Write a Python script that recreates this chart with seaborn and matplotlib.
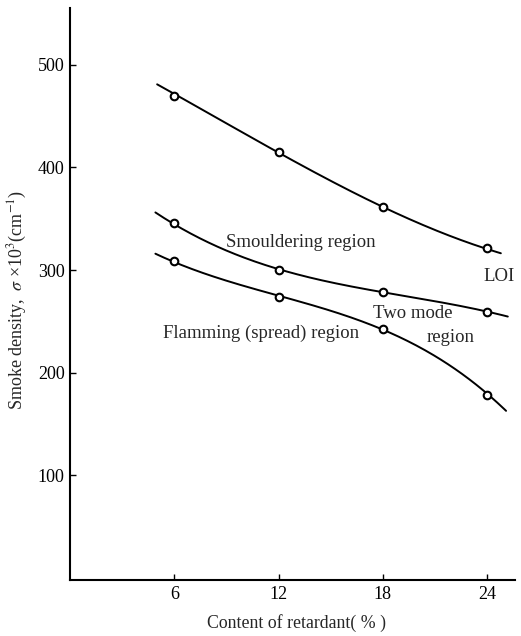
import numpy as np
import pandas as pd
import matplotlib
matplotlib.use("Agg")
import matplotlib.pyplot as plt
import seaborn as sns

# Measured points (retardant content %, smoke density)
content = [6, 12, 18, 24]
loi = [470, 415, 361, 321]
smoulder_bound = [346, 300, 279, 259]
flaming_bound = [309, 274, 243, 178]

# Where each drawn curve starts and ends beyond the measured points
loi_ends_x = [5.0, 24.8]
loi_ends_y = [482, 316]
smoulder_ends_x = [4.9, 25.2]
smoulder_ends_y = [355, 255]
flaming_ends_x = [4.9, 25.1]
flaming_ends_y = [315, 164]

x_ticks = [6, 12, 18, 24]
y_ticks = [100, 200, 300, 400, 500]

sns.set_theme(style="ticks")
plt.rcParams["font.family"] = ["Liberation Serif", "DejaVu Serif"]
plt.rcParams["mathtext.fontset"] = "stix"

fig = plt.figure(figsize=(5.21, 6.36), dpi=100)
ax = fig.add_axes([0.135, 0.088, 0.853, 0.899])

curves = [
    (loi, loi_ends_x, loi_ends_y),
    (smoulder_bound, smoulder_ends_x, smoulder_ends_y),
    (flaming_bound, flaming_ends_x, flaming_ends_y),
]

for ys, ex, ey in curves:
    px = np.array([ex[0]] + content + [ex[1]], dtype=float)
    py = np.array([ey[0]] + ys + [ey[1]], dtype=float)
    coef = np.polyfit(px, py, 3)
    xs = np.linspace(px[0], px[-1], 200)
    smooth = pd.DataFrame({"x": xs, "y": np.polyval(coef, xs)})
    sns.lineplot(data=smooth, x="x", y="y", ax=ax, color="black", lw=1.4,
                 sort=False, legend=False)
    pts = pd.DataFrame({"x": content, "y": ys})
    sns.scatterplot(data=pts, x="x", y="y", ax=ax, marker="o", s=30,
                    facecolor="white", edgecolor="black", linewidth=1.5,
                    zorder=5, legend=False)

tsize = 13.5
ax.text(13.3, 327, "Smouldering region", ha="center", va="center", fontsize=tsize)
ax.text(24.7, 294, "LOI", ha="center", va="center", fontsize=tsize)
ax.text(19.7, 258, "Two mode", ha="center", va="center", fontsize=tsize)
ax.text(21.9, 234, "region", ha="center", va="center", fontsize=tsize)
ax.text(11.0, 238, "Flamming (spread) region", ha="center", va="center",
        fontsize=tsize)

ax.set_xlim(0, 25.6)
ax.set_ylim(-2, 555)
ax.set_xticks(x_ticks)
ax.set_yticks(y_ticks)
ax.tick_params(direction="in", length=4, width=1.0, labelsize=13,
               colors="black", pad=4)
for side in ("top", "right"):
    ax.spines[side].set_visible(False)
for side in ("left", "bottom"):
    ax.spines[side].set_linewidth(1.5)
    ax.spines[side].set_color("black")

ax.set_xlabel("Content of retardant( % )", fontsize=12.8)
ax.set_ylabel("Smoke density,  $\\sigma$ ×10$^{3}$(cm$^{-1}$)", fontsize=13)
ax.xaxis.set_label_coords(0.51, -0.06)
ax.yaxis.set_label_coords(-0.094, 0.49)

fig.savefig("out.png", dpi=100)
